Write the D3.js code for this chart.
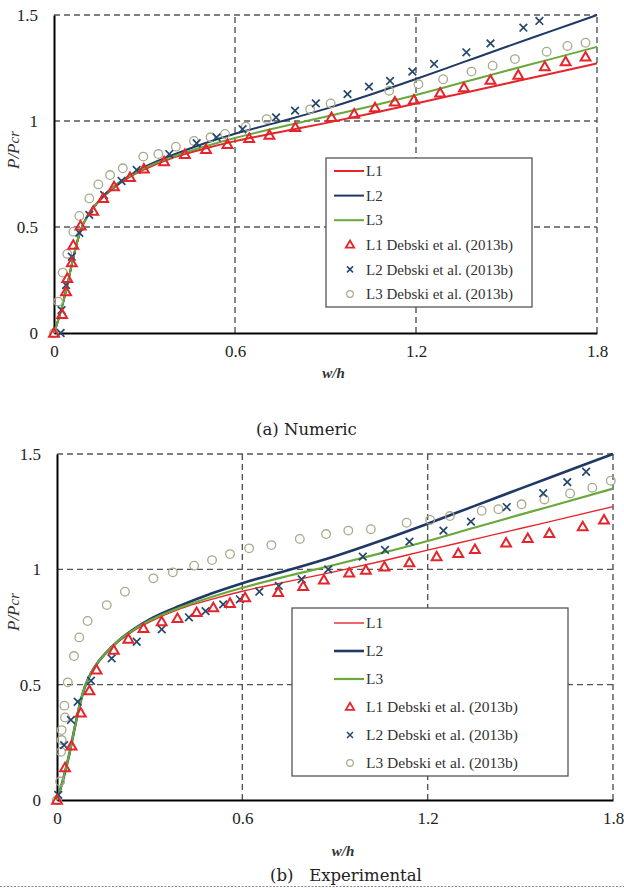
<!DOCTYPE html>
<html><head><meta charset="utf-8">
<script src="https://cdn.jsdelivr.net/npm/d3@7"></script>
<style>body{margin:0;background:#fff}svg{display:block}</style>
</head><body>
<svg id="c" width="624" height="888"></svg>
<script>
// ---- data ----
const xTicks = [0, 0.6, 1.2, 1.8];
const yTicks = [0, 0.5, 1, 1.5];
const yTickLabels = ["0", "0.5", "1", "1.5"];
const xTickLabels = ["0", "0.6", "1.2", "1.8"];
const legendLabels = ["L1", "L2", "L3", "L1 Debski et al. (2013b)", "L2 Debski et al. (2013b)", "L3 Debski et al. (2013b)"];
const captions = ["(a) Numeric", "(b)   Experimental"];

// model curves (same in both panels)
const lineX  = [0, 0.02, 0.04, 0.06, 0.075, 0.09, 0.11, 0.13, 0.16, 0.2, 0.25, 0.3, 0.4, 0.5, 0.6, 0.75, 0.9, 1.05, 1.2, 1.35, 1.5, 1.65, 1.8];
const lineL1 = [0, 0.09, 0.2, 0.33, 0.42, 0.49, 0.55, 0.59, 0.637, 0.687, 0.735, 0.772, 0.83, 0.87, 0.905, 0.948, 0.99, 1.035, 1.083, 1.13, 1.177, 1.224, 1.272];
const lineL2 = [0, 0.09, 0.2, 0.33, 0.42, 0.49, 0.55, 0.592, 0.64, 0.692, 0.742, 0.783, 0.843, 0.895, 0.94, 0.997, 1.057, 1.125, 1.198, 1.274, 1.35, 1.425, 1.5];
const lineL3 = [0, 0.09, 0.2, 0.33, 0.42, 0.49, 0.55, 0.592, 0.64, 0.692, 0.74, 0.778, 0.835, 0.88, 0.92, 0.972, 1.02, 1.07, 1.123, 1.18, 1.237, 1.293, 1.35];

// (a) Numeric – Debski et al. points
const numL1 = [[0,0],[0.027,0.088],[0.04,0.195],[0.044,0.258],[0.059,0.332],[0.064,0.415],[0.088,0.505],[0.13,0.575],[0.163,0.635],[0.199,0.69],[0.252,0.734],[0.298,0.774],[0.365,0.808],[0.434,0.843],[0.504,0.866],[0.575,0.89],[0.647,0.918],[0.714,0.934],[0.8,0.97],[0.92,1.017],[0.995,1.033],[1.064,1.063],[1.13,1.09],[1.193,1.1],[1.28,1.133],[1.359,1.157],[1.447,1.193],[1.539,1.217],[1.627,1.256],[1.696,1.28],[1.762,1.303]];
const numL2 = [[0.022,0],[0.025,0.108],[0.04,0.226],[0.059,0.36],[0.084,0.473],[0.117,0.557],[0.166,0.651],[0.224,0.717],[0.274,0.769],[0.382,0.844],[0.473,0.895],[0.539,0.923],[0.625,0.961],[0.736,1.017],[0.799,1.049],[0.868,1.083],[0.973,1.127],[1.044,1.162],[1.114,1.189],[1.188,1.233],[1.26,1.269],[1.367,1.324],[1.447,1.366],[1.556,1.44],[1.609,1.472]];
const numL3 = [[0,0],[0.014,0.148],[0.029,0.285],[0.044,0.373],[0.064,0.478],[0.084,0.552],[0.117,0.635],[0.147,0.701],[0.186,0.745],[0.228,0.777],[0.296,0.832],[0.346,0.844],[0.404,0.879],[0.464,0.906],[0.519,0.923],[0.567,0.939],[0.636,0.973],[0.705,1.009],[0.849,1.055],[0.917,1.083],[1.111,1.143],[1.208,1.173],[1.29,1.197],[1.384,1.233],[1.454,1.261],[1.528,1.292],[1.633,1.327],[1.702,1.354],[1.762,1.369]];

// (b) Experimental – Debski et al. points
const expL1 = [[0,0],[0.026,0.14],[0.047,0.235],[0.077,0.378],[0.105,0.474],[0.128,0.564],[0.184,0.65],[0.231,0.698],[0.28,0.744],[0.339,0.773],[0.39,0.787],[0.452,0.813],[0.506,0.834],[0.56,0.853],[0.609,0.877],[0.716,0.9],[0.797,0.926],[0.864,0.954],[0.946,0.985],[1.0,0.997],[1.06,1.011],[1.141,1.029],[1.229,1.055],[1.299,1.069],[1.353,1.087],[1.454,1.115],[1.524,1.134],[1.594,1.156],[1.702,1.185],[1.771,1.214]];
const expL2 = [[0.004,0.022],[0.023,0.238],[0.045,0.347],[0.067,0.426],[0.11,0.517],[0.177,0.614],[0.258,0.686],[0.339,0.74],[0.427,0.792],[0.481,0.819],[0.538,0.848],[0.592,0.87],[0.655,0.903],[0.718,0.928],[0.792,0.957],[0.878,1.0],[0.99,1.055],[1.062,1.084],[1.141,1.12],[1.251,1.168],[1.34,1.207],[1.456,1.27],[1.574,1.33],[1.652,1.378],[1.713,1.423]];
const expL3 = [[0,0],[0.01,0.08],[0.013,0.209],[0.015,0.26],[0.015,0.303],[0.026,0.358],[0.024,0.409],[0.035,0.51],[0.055,0.624],[0.072,0.705],[0.099,0.776],[0.161,0.845],[0.22,0.903],[0.312,0.961],[0.375,0.987],[0.444,1.016],[0.502,1.04],[0.56,1.066],[0.622,1.091],[0.694,1.105],[0.786,1.132],[0.871,1.153],[0.943,1.168],[1.016,1.174],[1.132,1.202],[1.208,1.214],[1.272,1.231],[1.375,1.254],[1.429,1.261],[1.504,1.282],[1.578,1.303],[1.661,1.329],[1.733,1.354],[1.793,1.384]];

// ---- styles ----
const RED = "#e5252b", NAVY = "#1f3864", GREEN = "#6aa83c", XCOL = "#24476b", CIRC = "#a7aa8c";
const serif = "'Liberation Serif','Times New Roman',serif";

const svg = d3.select("#c");

const panels = [
  {x0:54, x1:597, y0:333, y1:15, pts:[numL1,numL2,numL3], lw:[2,2,2],
   legend:{x:326, y:158, w:206, h:149, row0:171, step:24.6, fs:15},
   ylab:150, xlabY:378, cap:{x:256, y:435, text:captions[0]}},
  {x0:57, x1:613, y0:800, y1:454, pts:[expL1,expL2,expL3], lw:[1.4,2.6,2.2],
   legend:{x:292, y:608, w:276, h:168, row0:623, step:28, fs:15.5},
   ylab:612, xlabY:856, cap:{x:270, y:881, text:captions[1]}}
];

panels.forEach(p => {
  const x = d3.scaleLinear().domain([0, 1.8]).range([p.x0, p.x1]);
  const y = d3.scaleLinear().domain([0, 1.5]).range([p.y0, p.y1]);
  const g = svg.append("g");

  // dashed grid
  const gridCol = "#555", dash = "6,4";
  [0.6, 1.2, 1.8].forEach(v => g.append("line")
    .attr("x1", x(v)).attr("x2", x(v)).attr("y1", y(0)).attr("y2", y(1.5))
    .attr("stroke", gridCol).attr("stroke-width", 1.4).attr("stroke-dasharray", dash));
  [0.5, 1, 1.5].forEach(v => g.append("line")
    .attr("x1", x(0)).attr("x2", x(1.8)).attr("y1", y(v)).attr("y2", y(v))
    .attr("stroke", gridCol).attr("stroke-width", 1.4).attr("stroke-dasharray", dash));

  // axes
  const ax = d3.axisBottom(x).tickValues(xTicks).tickSize(0).tickPadding(12)
    .tickFormat((d,i) => xTickLabels[i]);
  const ay = d3.axisLeft(y).tickValues(yTicks).tickSize(0).tickPadding(16)
    .tickFormat((d,i) => yTickLabels[i]);
  const gx = g.append("g").attr("transform", `translate(0,${p.y0})`).call(ax);
  const gy = g.append("g").attr("transform", `translate(${p.x0},0)`).call(ay);
  [gx, gy].forEach(a => {
    a.select(".domain").attr("stroke", "#000").attr("stroke-width", 2);
    a.selectAll("text").attr("font-family", serif).attr("font-size", 17).attr("fill", "#222");
  });
  gx.selectAll("text").attr("dy", "0.71em");

  // axis titles
  g.append("text").attr("x", (p.x0 + p.x1) / 2 + 8).attr("y", p.xlabY)
    .attr("text-anchor", "middle").attr("font-family", serif).attr("font-style", "italic")
    .attr("font-weight", "bold").attr("font-size", 15).attr("fill", "#333").text("w/h");
  const yl = g.append("text").attr("transform", `translate(19,${p.ylab}) rotate(-90)`)
    .attr("text-anchor", "middle").attr("font-family", serif).attr("font-style", "italic")
    .attr("font-size", 17).attr("fill", "#333");
  yl.append("tspan").text("P/P");
  yl.append("tspan").attr("font-size", 15).text("cr");

  // lines
  const cols = [RED, NAVY, GREEN];
  [lineL1, lineL2, lineL3].forEach((arr, i) => {
    const line = d3.line().x((d, j) => x(lineX[j])).y(d => y(d)).curve(d3.curveMonotoneX);
    g.append("path").attr("d", line(arr)).attr("fill", "none")
      .attr("stroke", cols[i]).attr("stroke-width", p.lw[i]);
  });

  // markers
  const tri = d3.symbol(d3.symbolTriangle, 42);
  const xPath = "M-3.8,-3.8L3.8,3.8M-3.8,3.8L3.8,-3.8";
  g.append("g").selectAll("path").data(p.pts[2]).join("circle")
    .attr("cx", d => x(d[0])).attr("cy", d => y(d[1])).attr("r", 4.3)
    .attr("fill", "none").attr("stroke", CIRC).attr("stroke-width", 1.3);
  g.append("g").selectAll("path").data(p.pts[1]).join("path")
    .attr("transform", d => `translate(${x(d[0])},${y(d[1])})`).attr("d", xPath)
    .attr("stroke", XCOL).attr("stroke-width", 1.7).attr("fill", "none");
  g.append("g").selectAll("path").data(p.pts[0]).join("path")
    .attr("transform", d => `translate(${x(d[0])},${y(d[1]) + 0.8})`).attr("d", tri)
    .attr("stroke", RED).attr("stroke-width", 2).attr("fill", "none");

  // legend
  const L = p.legend;
  const lg = g.append("g");
  lg.append("rect").attr("x", L.x).attr("y", L.y).attr("width", L.w).attr("height", L.h)
    .attr("fill", "#fff").attr("stroke", "#555").attr("stroke-width", 1.3);
  const lx0 = 334, lx1 = 364, tx = 366;
  legendLabels.forEach((lab, i) => {
    const cy = L.row0 + i * L.step;
    if (i < 3) {
      lg.append("line").attr("x1", lx0).attr("x2", lx1).attr("y1", cy).attr("y2", cy)
        .attr("stroke", cols[i]).attr("stroke-width", p.lw[i]);
    } else if (i === 3) {
      lg.append("path").attr("transform", `translate(350,${cy + 0.5})`)
        .attr("d", d3.symbol(d3.symbolTriangle, 30)()).attr("stroke", RED)
        .attr("stroke-width", 1.8).attr("fill", "none");
    } else if (i === 4) {
      lg.append("path").attr("transform", `translate(350,${cy})`)
        .attr("d", "M-3,-3L3,3M-3,3L3,-3").attr("stroke", XCOL).attr("stroke-width", 1.5);
    } else {
      lg.append("circle").attr("cx", 350).attr("cy", cy).attr("r", 3.3)
        .attr("fill", "none").attr("stroke", CIRC).attr("stroke-width", 1.2);
    }
    lg.append("text").attr("x", tx).attr("y", cy).attr("dy", "0.35em")
      .attr("font-family", serif).attr("font-size", L.fs).attr("fill", "#333").text(lab);
  });

  // caption
  g.append("text").attr("x", p.cap.x).attr("y", p.cap.y)
    .attr("font-family", "'DejaVu Serif',serif").attr("font-size", 16.5).attr("fill", "#222")
    .attr("xml:space", "preserve").style("white-space", "pre").text(p.cap.text);
});

// dotted rule at the bottom
svg.append("line").attr("x1", 0).attr("x2", 624).attr("y1", 886.5).attr("y2", 886.5)
  .attr("stroke", "#888").attr("stroke-width", 1).attr("stroke-dasharray", "2,1.5");
</script>
</body></html>
